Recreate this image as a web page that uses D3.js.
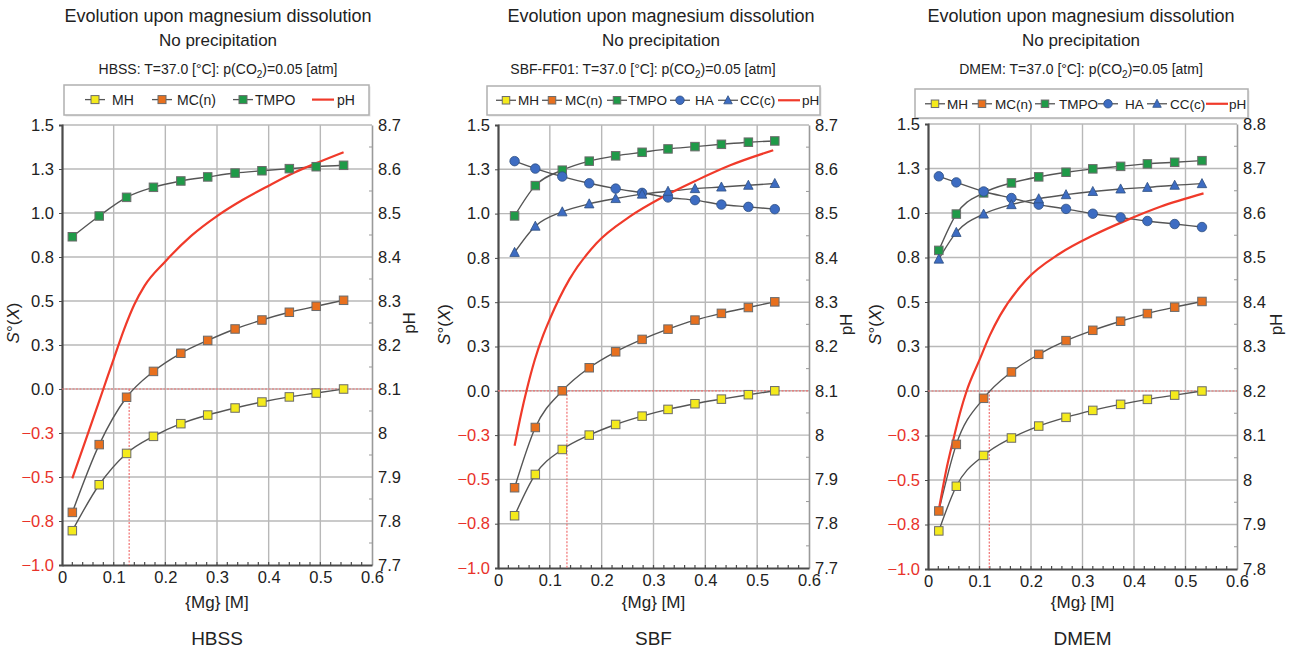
<!DOCTYPE html>
<html><head><meta charset="utf-8">
<script src="https://cdn.jsdelivr.net/npm/d3@7"></script>
<style>
body{margin:0;background:#fff;}
svg{display:block;font-family:"Liberation Sans",Arial,Helvetica,sans-serif;}
</style></head>
<body><svg id="c" width="1298" height="652"></svg>
<script>
// ---------------- DATA ----------------
const xTickValues = [0, 0.1, 0.2, 0.3, 0.4, 0.5, 0.6];
const xTickLabels = ["0", "0.1", "0.2", "0.3", "0.4", "0.5", "0.6"];
const leftTickValues = [1.5, 1.25, 1.0, 0.75, 0.5, 0.25, 0.0, -0.25, -0.5, -0.75, -1.0];
const leftTickLabels = ["1.5", "1.3", "1.0", "0.8", "0.5", "0.3", "0.0", "\u22120.3", "\u22120.5", "\u22120.8", "\u22121.0"];
const rightTickLabelsA = ["8.7", "8.6", "8.5", "8.4", "8.3", "8.2", "8.1", "8", "7.9", "7.8", "7.7"];
const rightTickLabelsB = ["8.8", "8.7", "8.6", "8.5", "8.4", "8.3", "8.2", "8.1", "8", "7.9", "7.8"];

// HBSS
const hbssMg   = [0.02, 0.072, 0.125, 0.177, 0.23, 0.282, 0.335, 0.387, 0.44, 0.492, 0.545];
const hbssMH   = [-0.805, -0.544, -0.366, -0.269, -0.197, -0.148, -0.108, -0.074, -0.045, -0.023, 0.0];
const hbssMCn  = [-0.701, -0.316, -0.047, 0.10, 0.203, 0.276, 0.341, 0.392, 0.436, 0.47, 0.504];
const hbssTMPO = [0.865, 0.983, 1.089, 1.146, 1.182, 1.205, 1.227, 1.24, 1.252, 1.263, 1.271];
const hbssPhMg = [0.02, 0.05, 0.08, 0.1, 0.12, 0.14, 0.16, 0.2, 0.25, 0.3, 0.35, 0.4, 0.45, 0.5, 0.545];
const hbssPH   = [7.897, 7.998, 8.1, 8.168, 8.235, 8.292, 8.335, 8.39, 8.448, 8.493, 8.53, 8.562, 8.592, 8.617, 8.638];
const hbssEq   = 0.13;

// SBF
const sbfMg   = [0.032, 0.072, 0.124, 0.176, 0.227, 0.278, 0.328, 0.38, 0.431, 0.483, 0.534];
const sbfMH   = [-0.705, -0.472, -0.331, -0.25, -0.19, -0.143, -0.105, -0.073, -0.047, -0.022, 0.0];
const sbfMCn  = [-0.547, -0.207, 0.0, 0.13, 0.22, 0.29, 0.348, 0.399, 0.437, 0.47, 0.502];
const sbfTMPO = [0.987, 1.158, 1.245, 1.296, 1.326, 1.346, 1.365, 1.378, 1.391, 1.403, 1.41];
const sbfHA   = [1.296, 1.254, 1.209, 1.171, 1.141, 1.117, 1.091, 1.076, 1.051, 1.038, 1.025];
const sbfCCc  = [0.781, 0.929, 1.01, 1.055, 1.085, 1.11, 1.126, 1.141, 1.15, 1.16, 1.17];
const sbfPhMg = [0.032, 0.045, 0.055, 0.071, 0.087, 0.1, 0.138, 0.19, 0.254, 0.319, 0.383, 0.448, 0.531];
const sbfPH   = [7.976, 8.05, 8.1, 8.17, 8.225, 8.262, 8.352, 8.433, 8.493, 8.538, 8.575, 8.609, 8.643];
const sbfEq   = 0.133;

// DMEM
const dmemMg   = [0.021, 0.055, 0.108, 0.162, 0.215, 0.268, 0.32, 0.374, 0.426, 0.479, 0.532];
const dmemMH   = [-0.786, -0.535, -0.362, -0.264, -0.197, -0.148, -0.109, -0.075, -0.047, -0.023, 0.0];
const dmemMCn  = [-0.674, -0.3, -0.041, 0.107, 0.206, 0.283, 0.341, 0.392, 0.435, 0.471, 0.503];
const dmemTMPO = [0.79, 0.994, 1.113, 1.169, 1.203, 1.229, 1.248, 1.262, 1.276, 1.285, 1.294];
const dmemHA   = [1.206, 1.172, 1.121, 1.084, 1.047, 1.023, 0.996, 0.975, 0.955, 0.938, 0.921];
const dmemCCc  = [0.741, 0.891, 0.994, 1.047, 1.08, 1.103, 1.121, 1.135, 1.144, 1.156, 1.165];
const dmemPhMg = [0.021, 0.035, 0.049, 0.062, 0.075, 0.1, 0.12, 0.14, 0.19, 0.256, 0.321, 0.386, 0.451, 0.535];
const dmemPH   = [7.933, 8.02, 8.09, 8.15, 8.2, 8.27, 8.325, 8.37, 8.449, 8.509, 8.55, 8.584, 8.614, 8.644];
const dmemEq   = 0.119;

// ---------------- STYLE ----------------
const C = {MH:"#f4ea1c", MCn:"#e8701e", TMPO:"#1f9a48", HA:"#3d6cc2", CCc:"#3d6cc2", pH:"#f03a2a",
           red:"#e8322a", text:"#222", grid:"#b8b8b8", ser:"#555"};

const panels = [
  {name:"HBSS", sub:"HBSS", left:62, right:372, top:125, bottom:565, ph:[7.7,8.7], rLabels:rightTickLabelsA,
   mg:hbssMg, series:[["MH",hbssMH,"sq"],["MCn",hbssMCn,"sq"],["TMPO",hbssTMPO,"sq"]],
   phMg:hbssPhMg, phV:hbssPH, eq:hbssEq, cx:218, sx:218, legBox:[64,85,369,115], legFont:14, legY:104.5, legMs:8,
   leg:[["MH","MH","sq",95,112],["MCn","MC(n)","sq",162,177],["TMPO","TMPO","sq",243,255],["pH","pH","line",323,337]],
   yl:19, yr:415},
  {name:"SBF", sub:"SBF-FF01", left:498, right:809, top:125, bottom:568, ph:[7.7,8.7], rLabels:rightTickLabelsA,
   mg:sbfMg, series:[["MH",sbfMH,"sq"],["MCn",sbfMCn,"sq"],["TMPO",sbfTMPO,"sq"],["HA",sbfHA,"ci"],["CCc",sbfCCc,"tri"]],
   phMg:sbfPhMg, phV:sbfPH, eq:sbfEq, cx:661, sx:643, legBox:[487,86,820,115], legFont:13.5, legY:105, legMs:7.5,
   leg:[["MH","MH","sq",506,518],["MCn","MC(n)","sq",552,565],["TMPO","TMPO","sq",617,628],["HA","HA","ci",680,695],["CCc","CC(c)","tri",728,740],["pH","pH","line",789,802]],
   yl:450, yr:852},
  {name:"DMEM", sub:"DMEM", left:928, right:1237, top:124, bottom:569, ph:[7.8,8.8], rLabels:rightTickLabelsB,
   mg:dmemMg, series:[["MH",dmemMH,"sq"],["MCn",dmemMCn,"sq"],["TMPO",dmemTMPO,"sq"],["HA",dmemHA,"ci"],["CCc",dmemCCc,"tri"]],
   phMg:dmemPhMg, phV:dmemPH, eq:dmemEq, cx:1081, sx:1081, legBox:[915,89,1248,118], legFont:13.5, legY:108.5, legMs:7.5,
   leg:[["MH","MH","sq",935,947],["MCn","MC(n)","sq",982,995],["TMPO","TMPO","sq",1045,1059],["HA","HA","ci",1108,1125],["CCc","CC(c)","tri",1157,1170],["pH","pH","line",1217,1229]],
   yl:881, yr:1282}
];

const svg = d3.select("#c");

function drawMarker(g, type, x, y, color, s){
  if(type==="sq"){
    g.append("rect").attr("x",x-s/2).attr("y",y-s/2).attr("width",s).attr("height",s)
      .attr("fill",color).attr("stroke","#6b6b6b").attr("stroke-width",1);
  } else if(type==="ci"){
    g.append("circle").attr("cx",x).attr("cy",y).attr("r",s/2+0.5)
      .attr("fill",color).attr("stroke","#2f4f80").attr("stroke-width",0.8);
  } else if(type==="tri"){
    const h=s*0.95;
    g.append("path").attr("d",`M${x},${y-h/2-1}L${x+s/2+0.5},${y+h/2}L${x-s/2-0.5},${y+h/2}Z`)
      .attr("fill",color).attr("stroke","#2f4f80").attr("stroke-width",0.8);
  }
}

panels.forEach(p=>{
  const g = svg.append("g");
  const x = d3.scaleLinear().domain([0,0.6]).range([p.left,p.right]);
  const y = d3.scaleLinear().domain([-1,1.5]).range([p.bottom,p.top]);
  const yr = d3.scaleLinear().domain(p.ph).range([p.bottom,p.top]);

  // titles
  g.append("text").attr("x",p.cx).attr("y",21.5).attr("text-anchor","middle").attr("font-size",18).attr("fill",C.text)
    .text("Evolution upon magnesium dissolution");
  g.append("text").attr("x",p.cx).attr("y",46).attr("text-anchor","middle").attr("font-size",17).attr("fill",C.text)
    .text("No precipitation");
  const st = g.append("text").attr("x",p.sx).attr("y",74).attr("text-anchor","middle").attr("font-size",14).attr("fill",C.text);
  st.append("tspan").text(p.sub+": T=37.0 [\u00b0C]: p(CO");
  st.append("tspan").attr("font-size",10).attr("dy",3.5).text("2");
  st.append("tspan").attr("dy",-3.5).text(")=0.05 [atm]");

  // legend
  const lb = p.legBox;
  g.append("rect").attr("x",lb[0]+1.5).attr("y",lb[1]+1.5).attr("width",lb[2]-lb[0]).attr("height",lb[3]-lb[1]).attr("fill","#e4e4e4");
  g.append("rect").attr("x",lb[0]).attr("y",lb[1]).attr("width",lb[2]-lb[0]).attr("height",lb[3]-lb[1])
    .attr("fill","#fff").attr("stroke","#b0b0b0").attr("stroke-width",1.5);
  const ly = p.legY - p.legFont*0.35;
  p.leg.forEach(([key,label,type,mx,tx])=>{
    if(type==="line"){
      g.append("line").attr("x1",mx-11).attr("x2",mx+11).attr("y1",ly).attr("y2",ly).attr("stroke",C.pH).attr("stroke-width",2.2);
    } else {
      g.append("line").attr("x1",mx-10).attr("x2",mx+10).attr("y1",ly).attr("y2",ly).attr("stroke",C.ser).attr("stroke-width",1.3);
      drawMarker(g,type,mx,ly,C[key],p.legMs);
    }
    g.append("text").attr("x",tx).attr("y",p.legY).attr("font-size",p.legFont).attr("fill",C.text).text(label);
  });

  // grid
  g.selectAll(".vg").data([0.1,0.2,0.3,0.4,0.5]).enter().append("line")
    .attr("x1",d=>x(d)).attr("x2",d=>x(d)).attr("y1",p.top).attr("y2",p.bottom)
    .attr("stroke",C.grid).attr("stroke-width",1.4);
  g.selectAll(".hg").data(leftTickValues.filter(v=>v>-1)).enter().append("line")
    .attr("x1",p.left).attr("x2",p.right).attr("y1",d=>y(d)).attr("y2",d=>y(d))
    .attr("stroke",C.grid).attr("stroke-width",1.4);

  // right axis
  const rAxis = d3.axisRight(yr).tickValues(d3.range(11).map(i=>p.ph[0]+i*0.1)).tickSize(0)
    .tickFormat((d,i)=>p.rLabels[10-i]);
  const ra = g.append("g").attr("transform",`translate(${p.right},0)`).call(rAxis);
  ra.select(".domain").attr("stroke","#9a9a9a").attr("stroke-width",1.6);
  ra.selectAll("text").attr("font-size",16.5).attr("fill",C.text).attr("font-family","Liberation Sans, Arial, sans-serif").attr("dx",3);
  g.selectAll(".rmt").data(d3.range(10).map(i=>p.ph[0]+0.05+i*0.1)).enter().append("line")
    .attr("x1",p.right-3).attr("x2",p.right).attr("y1",d=>yr(d)).attr("y2",d=>yr(d)).attr("stroke","#999").attr("stroke-width",1);

  // left axis
  const lAxis = d3.axisLeft(y).tickValues(leftTickValues).tickSize(3).tickPadding(5)
    .tickFormat((d,i)=>leftTickLabels[i]);
  const la = g.append("g").attr("transform",`translate(${p.left},0)`).call(lAxis);
  la.select(".domain").attr("stroke","#4a4a4a").attr("stroke-width",2.2);
  la.selectAll(".tick line").attr("stroke","#4a4a4a");
  la.selectAll("text").attr("font-size",16.5).attr("font-family","Liberation Sans, Arial, sans-serif")
    .attr("fill",d=>d<0?C.red:C.text);

  // bottom axis
  const bAxis = d3.axisBottom(x).tickValues(xTickValues).tickSize(0).tickPadding(6)
    .tickFormat((d,i)=>xTickLabels[i]);
  const ba = g.append("g").attr("transform",`translate(0,${p.bottom})`).call(bAxis);
  ba.select(".domain").attr("stroke","#4a4a4a").attr("stroke-width",2.2);
  ba.selectAll("text").attr("font-size",16.5).attr("fill",C.text).attr("font-family","Liberation Sans, Arial, sans-serif");
  g.selectAll(".bmt").data(d3.range(1,30).map(i=>i*0.02)).enter().append("line")
    .attr("x1",d=>x(d)).attr("x2",d=>x(d)).attr("y1",p.bottom-3).attr("y2",p.bottom).attr("stroke","#4a4a4a").attr("stroke-width",1.2);

  // red reference lines
  g.append("line").attr("x1",p.left).attr("x2",p.right).attr("y1",y(0)).attr("y2",y(0))
    .attr("stroke","#f07070").attr("stroke-width",1.2).attr("stroke-dasharray","2,1.5");
  g.append("line").attr("x1",x(p.eq)).attr("x2",x(p.eq)).attr("y1",y(0)).attr("y2",p.bottom)
    .attr("stroke","#f07070").attr("stroke-width",1.2).attr("stroke-dasharray","2,1.5");

  // series
  const line = d3.line().x(d=>x(d[0])).y(d=>y(d[1])).curve(d3.curveMonotoneX);
  p.series.forEach(([key,vals,type])=>{
    const pts = p.mg.map((m,i)=>[m,vals[i]]);
    g.append("path").attr("d",line(pts)).attr("fill","none").attr("stroke",C.ser).attr("stroke-width",1.4);
  });
  // pH
  const phLine = d3.line().x(d=>x(d[0])).y(d=>yr(d[1])).curve(d3.curveMonotoneX);
  g.append("path").attr("d",phLine(p.phMg.map((m,i)=>[m,p.phV[i]]))).attr("fill","none")
    .attr("stroke",C.pH).attr("stroke-width",2.2);
  // markers
  p.series.forEach(([key,vals,type])=>{
    p.mg.forEach((m,i)=>drawMarker(g,type,x(m),y(vals[i]),C[key],8.5));
  });

  // axis titles
  const mid = (p.top+p.bottom)/2 - 22;
  const yt = g.append("text").attr("transform",`translate(${p.yl},${mid}) rotate(-90)`).attr("text-anchor","middle")
    .attr("font-size",17).attr("fill",C.text);
  yt.append("tspan").attr("font-style","italic").text("S");
  yt.append("tspan").text("\u00b0(");
  yt.append("tspan").attr("font-style","italic").text("X");
  yt.append("tspan").text(")");
  g.append("text").attr("transform",`translate(${p.yr},${mid}) rotate(-90)`).attr("text-anchor","middle")
    .attr("font-size",17).attr("fill",C.text).text("pH");
  const xc = (p.left+p.right)/2;
  g.append("text").attr("x",xc).attr("y",608).attr("text-anchor","middle").attr("font-size",17).attr("fill",C.text).text("{Mg} [M]");
  g.append("text").attr("x",xc).attr("y",645).attr("text-anchor","middle").attr("font-size",19).attr("fill",C.text).text(p.name);
});
</script></body></html>
